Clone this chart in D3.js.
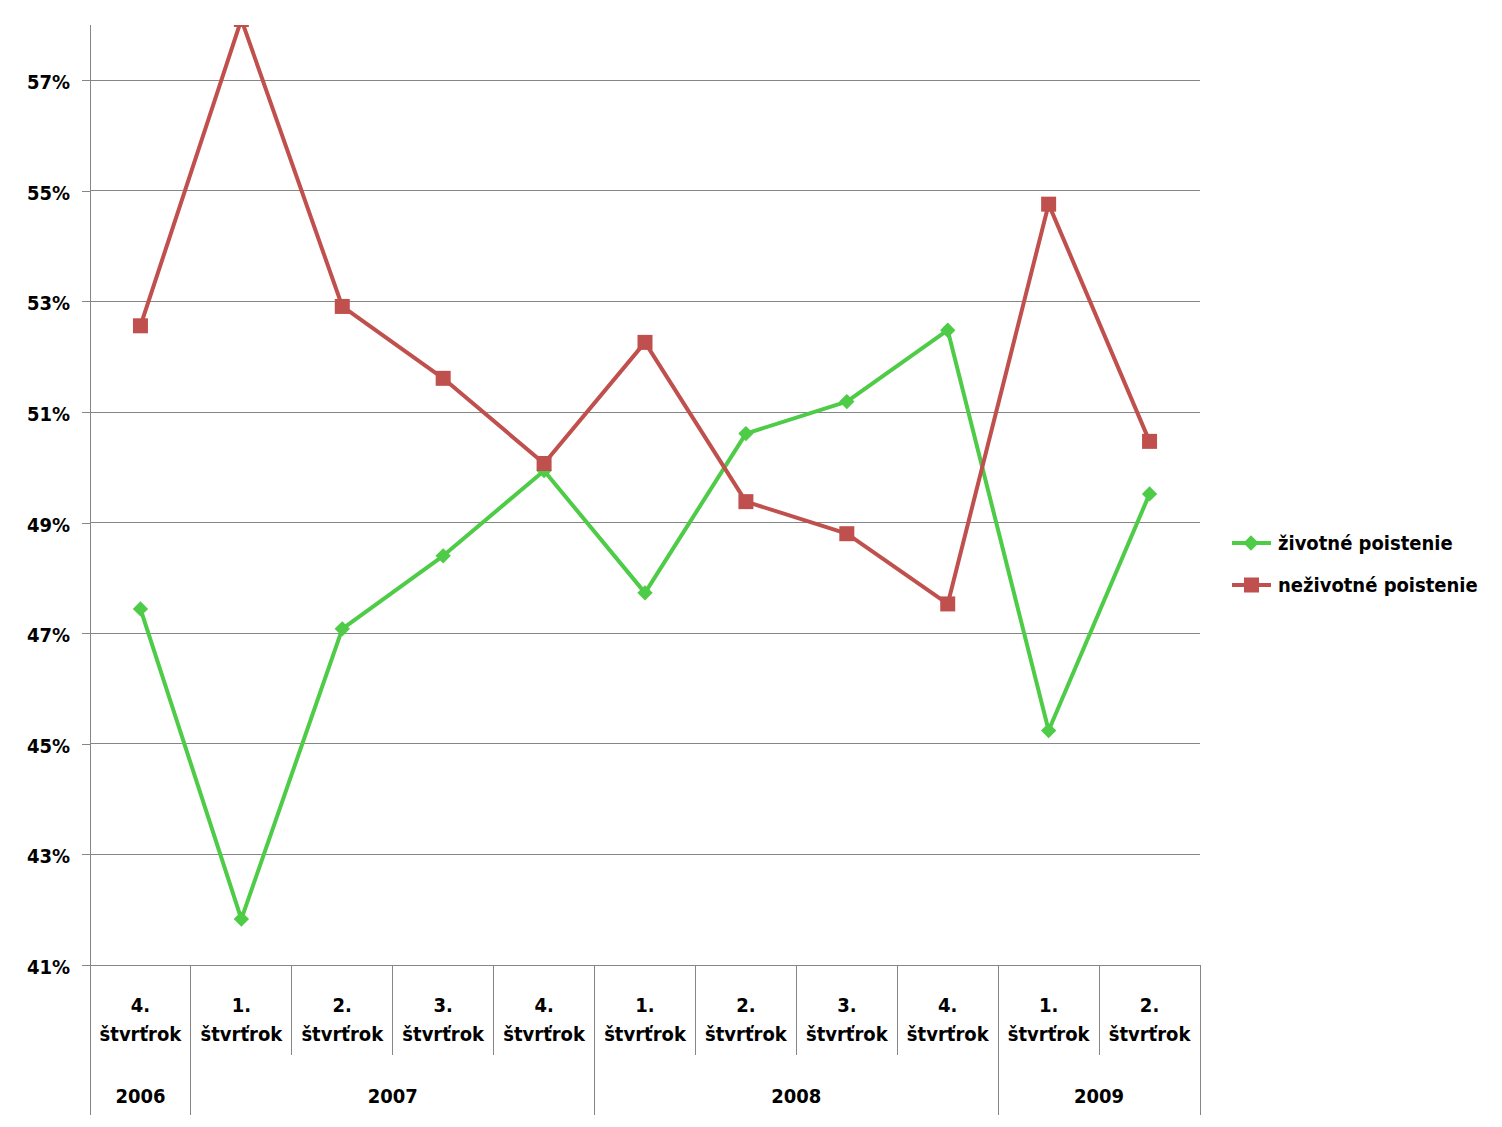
<!DOCTYPE html>
<html>
<head>
<meta charset="utf-8">
<script src="https://cdn.jsdelivr.net/npm/d3@7"></script>
<style>
  html, body { margin: 0; padding: 0; background: #fff; }
  svg text { font-family: "DejaVu Sans Condensed", "DejaVu Sans", sans-serif; font-weight: bold; fill: #000; }
</style>
</head>
<body>
<svg id="chart" width="1502" height="1127"></svg>
<script>
const quarters = ["4.", "1.", "2.", "3.", "4.", "1.", "2.", "3.", "4.", "1.", "2."];
const quarterWord = "štvrťrok";
const years = ["2006", "2007", "2008", "2009"];
const yearSpans = [1, 4, 4, 2];
const zivotne = [47.44, 41.83, 47.08, 48.40, 49.94, 47.73, 50.61, 51.19, 52.48, 45.24, 49.52];
const nezivotne = [52.56, 58.10, 52.91, 51.61, 50.07, 52.26, 49.38, 48.80, 47.53, 54.76, 50.47];
const yTicks = [41, 43, 45, 47, 49, 51, 53, 55, 57];
const seriesNames = ["životné poistenie", "neživotné poistenie"];

const svg = d3.select("#chart");
const L = 90, R = 1200, T = 25, B = 965;
const idx = d3.range(quarters.length);
const x = d3.scaleBand().domain(idx).range([L, R]).paddingInner(0).paddingOuter(0);
const y = d3.scaleLinear().domain([41, 58]).range([B, T]);
const gridColor = "#868686";
const FS = 20;

// gridlines
svg.append("g").selectAll("line").data(yTicks.filter(t => t > 41)).join("line")
  .attr("x1", L).attr("x2", R).attr("y1", d => y(d)).attr("y2", d => y(d))
  .attr("stroke", gridColor).attr("stroke-width", 1).attr("shape-rendering", "crispEdges");

// y axis
const yAxis = d3.axisLeft(y).tickValues(yTicks).tickFormat(d => d + "%").tickSize(8).tickPadding(12);
const gy = svg.append("g").attr("transform", `translate(${L},0)`).call(yAxis);
gy.select(".domain").remove();
gy.selectAll(".tick line").attr("stroke", gridColor).attr("shape-rendering", "crispEdges");
gy.selectAll(".tick text").attr("font-size", FS).attr("fill", "#000").attr("dy", "0.42em")
  .style("font-family", '"DejaVu Sans Condensed", "DejaVu Sans", sans-serif').style("font-weight", "bold");
svg.append("line").attr("x1", L).attr("x2", L).attr("y1", T).attr("y2", 1115)
  .attr("stroke", gridColor).attr("shape-rendering", "crispEdges");
svg.append("line").attr("x1", L - 8).attr("x2", R).attr("y1", B).attr("y2", B)
  .attr("stroke", gridColor).attr("shape-rendering", "crispEdges");

// category separators
const yearBoundaries = new Set([0]);
let acc = 0;
yearSpans.forEach(s => { acc += s; yearBoundaries.add(acc); });
const bounds = d3.range(1, quarters.length + 1);
svg.append("g").selectAll("line").data(bounds).join("line")
  .attr("x1", i => i < quarters.length ? x(i) : R)
  .attr("x2", i => i < quarters.length ? x(i) : R)
  .attr("y1", B).attr("y2", i => yearBoundaries.has(i) ? 1115 : 1055)
  .attr("stroke", gridColor).attr("shape-rendering", "crispEdges");

// category labels
const cx = i => x(i) + x.bandwidth() / 2;
const labG = svg.append("g").attr("font-size", FS).attr("text-anchor", "middle");
labG.selectAll("text.q").data(idx).join("text").attr("class", "q")
  .attr("x", cx).attr("y", 1006).attr("dominant-baseline", "middle").text(i => quarters[i]);
labG.selectAll("text.w").data(idx).join("text").attr("class", "w")
  .attr("x", cx).attr("y", 1035).attr("dominant-baseline", "middle").text(quarterWord);
let start = 0;
const yearPos = yearSpans.map(s => { const p = { s: start, e: start + s }; start += s; return p; });
labG.selectAll("text.y").data(years).join("text").attr("class", "y")
  .attr("x", (d, k) => (x(yearPos[k].s) + (yearPos[k].e < quarters.length ? x(yearPos[k].e) : R)) / 2)
  .attr("y", 1097).attr("dominant-baseline", "middle").text(d => d);

// clip
svg.append("clipPath").attr("id", "plotclip").append("rect")
  .attr("x", L).attr("y", T).attr("width", R - L + 20).attr("height", B - T + 20);
const plot = svg.append("g").attr("clip-path", "url(#plotclip)");

const colors = ["#4ECB47", "#C0504D"];
const line = d3.line().x((d, i) => cx(i)).y(d => y(d));
[zivotne, nezivotne].forEach((vals, k) => {
  plot.append("path").datum(vals).attr("d", line).attr("fill", "none")
    .attr("stroke", colors[k]).attr("stroke-width", 4).attr("stroke-linejoin", "round");
});
const diamond = d3.symbol().type(d3.symbolDiamond2).size(150);
plot.append("g").selectAll("path").data(zivotne).join("path")
  .attr("transform", (d, i) => `translate(${cx(i)},${y(d)})`)
  .attr("d", diamond()).attr("fill", colors[0]);
plot.append("g").selectAll("rect").data(nezivotne).join("rect")
  .attr("x", (d, i) => cx(i) - 7.5).attr("y", d => y(d) - 7.5)
  .attr("width", 15).attr("height", 15).attr("fill", colors[1]);

// legend
const lg = svg.append("g").attr("font-size", FS);
seriesNames.forEach((name, k) => {
  const ly = 543 + k * 42;
  lg.append("line").attr("x1", 1232).attr("x2", 1271).attr("y1", ly).attr("y2", ly)
    .attr("stroke", colors[k]).attr("stroke-width", 4);
  if (k === 0) {
    lg.append("path").attr("transform", `translate(1251,${ly})`).attr("d", diamond()).attr("fill", colors[0]);
  } else {
    lg.append("rect").attr("x", 1244).attr("y", ly - 7.5).attr("width", 15).attr("height", 15).attr("fill", colors[1]);
  }
  lg.append("text").attr("x", 1278).attr("y", ly + 1).attr("dominant-baseline", "middle").text(name);
});
</script>
</body>
</html>
